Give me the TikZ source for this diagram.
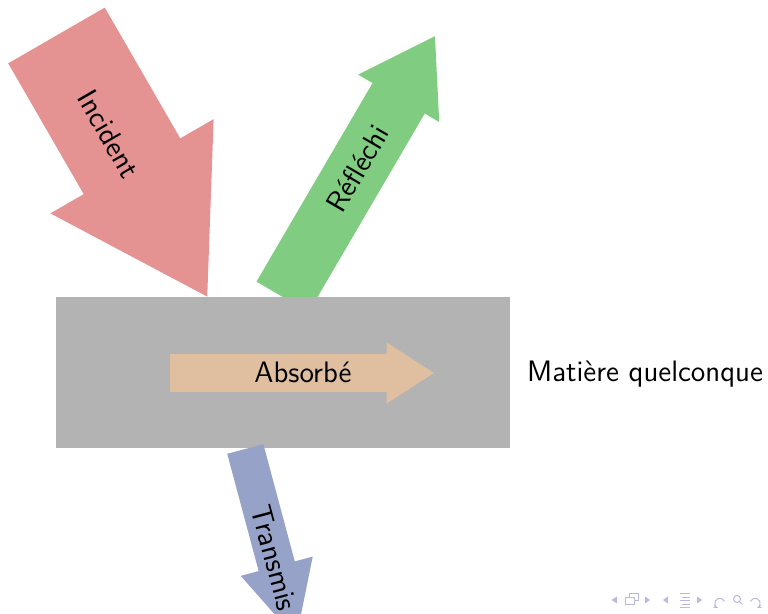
\documentclass[tikz,border=0pt]{standalone}
\usepackage{fontspec}
\usetikzlibrary{arrows.meta}
\definecolor{incred}{RGB}{229,146,146}
\definecolor{reflgreen}{RGB}{128,204,128}
\definecolor{transblue}{RGB}{151,162,200}
\definecolor{absbrown}{RGB}{223,191,159}
\definecolor{matgray}{RGB}{179,179,179}
\definecolor{navcol}{RGB}{185,185,228}
% #1 colour, #2 tail centre, #3 angle, #4 shaft width, #5 head width, #6 shaft length, #7 head length
\newcommand\fatarrow[7]{%
  \fill[#1, shift={#2}, rotate=#3]
    (0,{-#4/2}) -- (#6,{-#4/2}) -- (#6,{-#5/2}) -- ({#6+#7},0)
    -- (#6,{#5/2}) -- (#6,{#4/2}) -- (0,{#4/2}) -- cycle;}
\begin{document}
\begin{tikzpicture}[x=0.5pt,y=0.5pt,
  lbl/.style={font=\fontsize{14.8}{18}\selectfont\sffamily, inner sep=0pt, text=black}]
\useasboundingbox (0,0) rectangle (768,614);
\clip (0,0) rectangle (768,614);
% Incident
\fatarrow{incred}{(56.5,578.5)}{-60}{111.5}{188.5}{151}{150.5}
\node[lbl, rotate=-60] (inc) at (109,480) {Incident};
% Reflechi
\fatarrow{reflgreen}{(282.6,317.1)}{59.7}{60.5}{94}{230}{72}
\node[lbl, rotate=59.7] (ref) at (357.5,445.7) {Réfléchi};
% Matiere
\node[fill=matgray, inner sep=0pt, minimum width=226.65pt, minimum height=75.5pt,
      anchor=south west] (mat) at (56,165.7) {};
% Transmis
\fatarrow{transblue}{(245.3,165)}{-75}{37.4}{74.5}{121.4}{75}
\node[lbl, rotate=-75] (tra) at (274.5,56) {Transmis};
% Absorbe
\fatarrow{absbrown}{(170,241)}{0}{37.7}{61}{216.7}{47.3}
\node[lbl] (abs) at (303,242) {Absorbé};
\node[lbl, anchor=base west] (mq) at (526.7,232.3) {Matière quelconque};
% navigation symbols
\begin{scope}[shift={(0,614)}, yscale=-1, line width=0.5pt]
  \fill[navcol] (617,596.5) -- (617,603.5) -- (611.5,600) -- cycle;
  \draw[navcol] (629,594) rectangle (638,601);
  \filldraw[draw=navcol, fill=white] (625,597.5) rectangle (634,604.5);
  \fill[navcol] (645,596.5) -- (645,603.5) -- (650,600) -- cycle;
  \fill[navcol] (668,596.5) -- (668,603.5) -- (663,600) -- cycle;
  \draw[navcol] (680,594) -- (690,594) (682,597.5) -- (690,597.5)
     (680,601) -- (690,601) (682,604.5) -- (690,604.5) (680,607.5) -- (690,607.5);
  \fill[navcol] (697,596.5) -- (697,603.5) -- (702,600) -- cycle;
  \draw[navcol, -{Stealth[length=2.5pt]}] (724.5,601.5) arc (-20:-250:5) ;
  \draw[navcol] (737,599) circle (3.5) (739.5,601.5) -- (742.5,604.5);
  \draw[navcol, -{Stealth[length=2.5pt]}] (750.5,601.5) arc (200:430:5);
\end{scope}
\end{tikzpicture}
\end{document}
